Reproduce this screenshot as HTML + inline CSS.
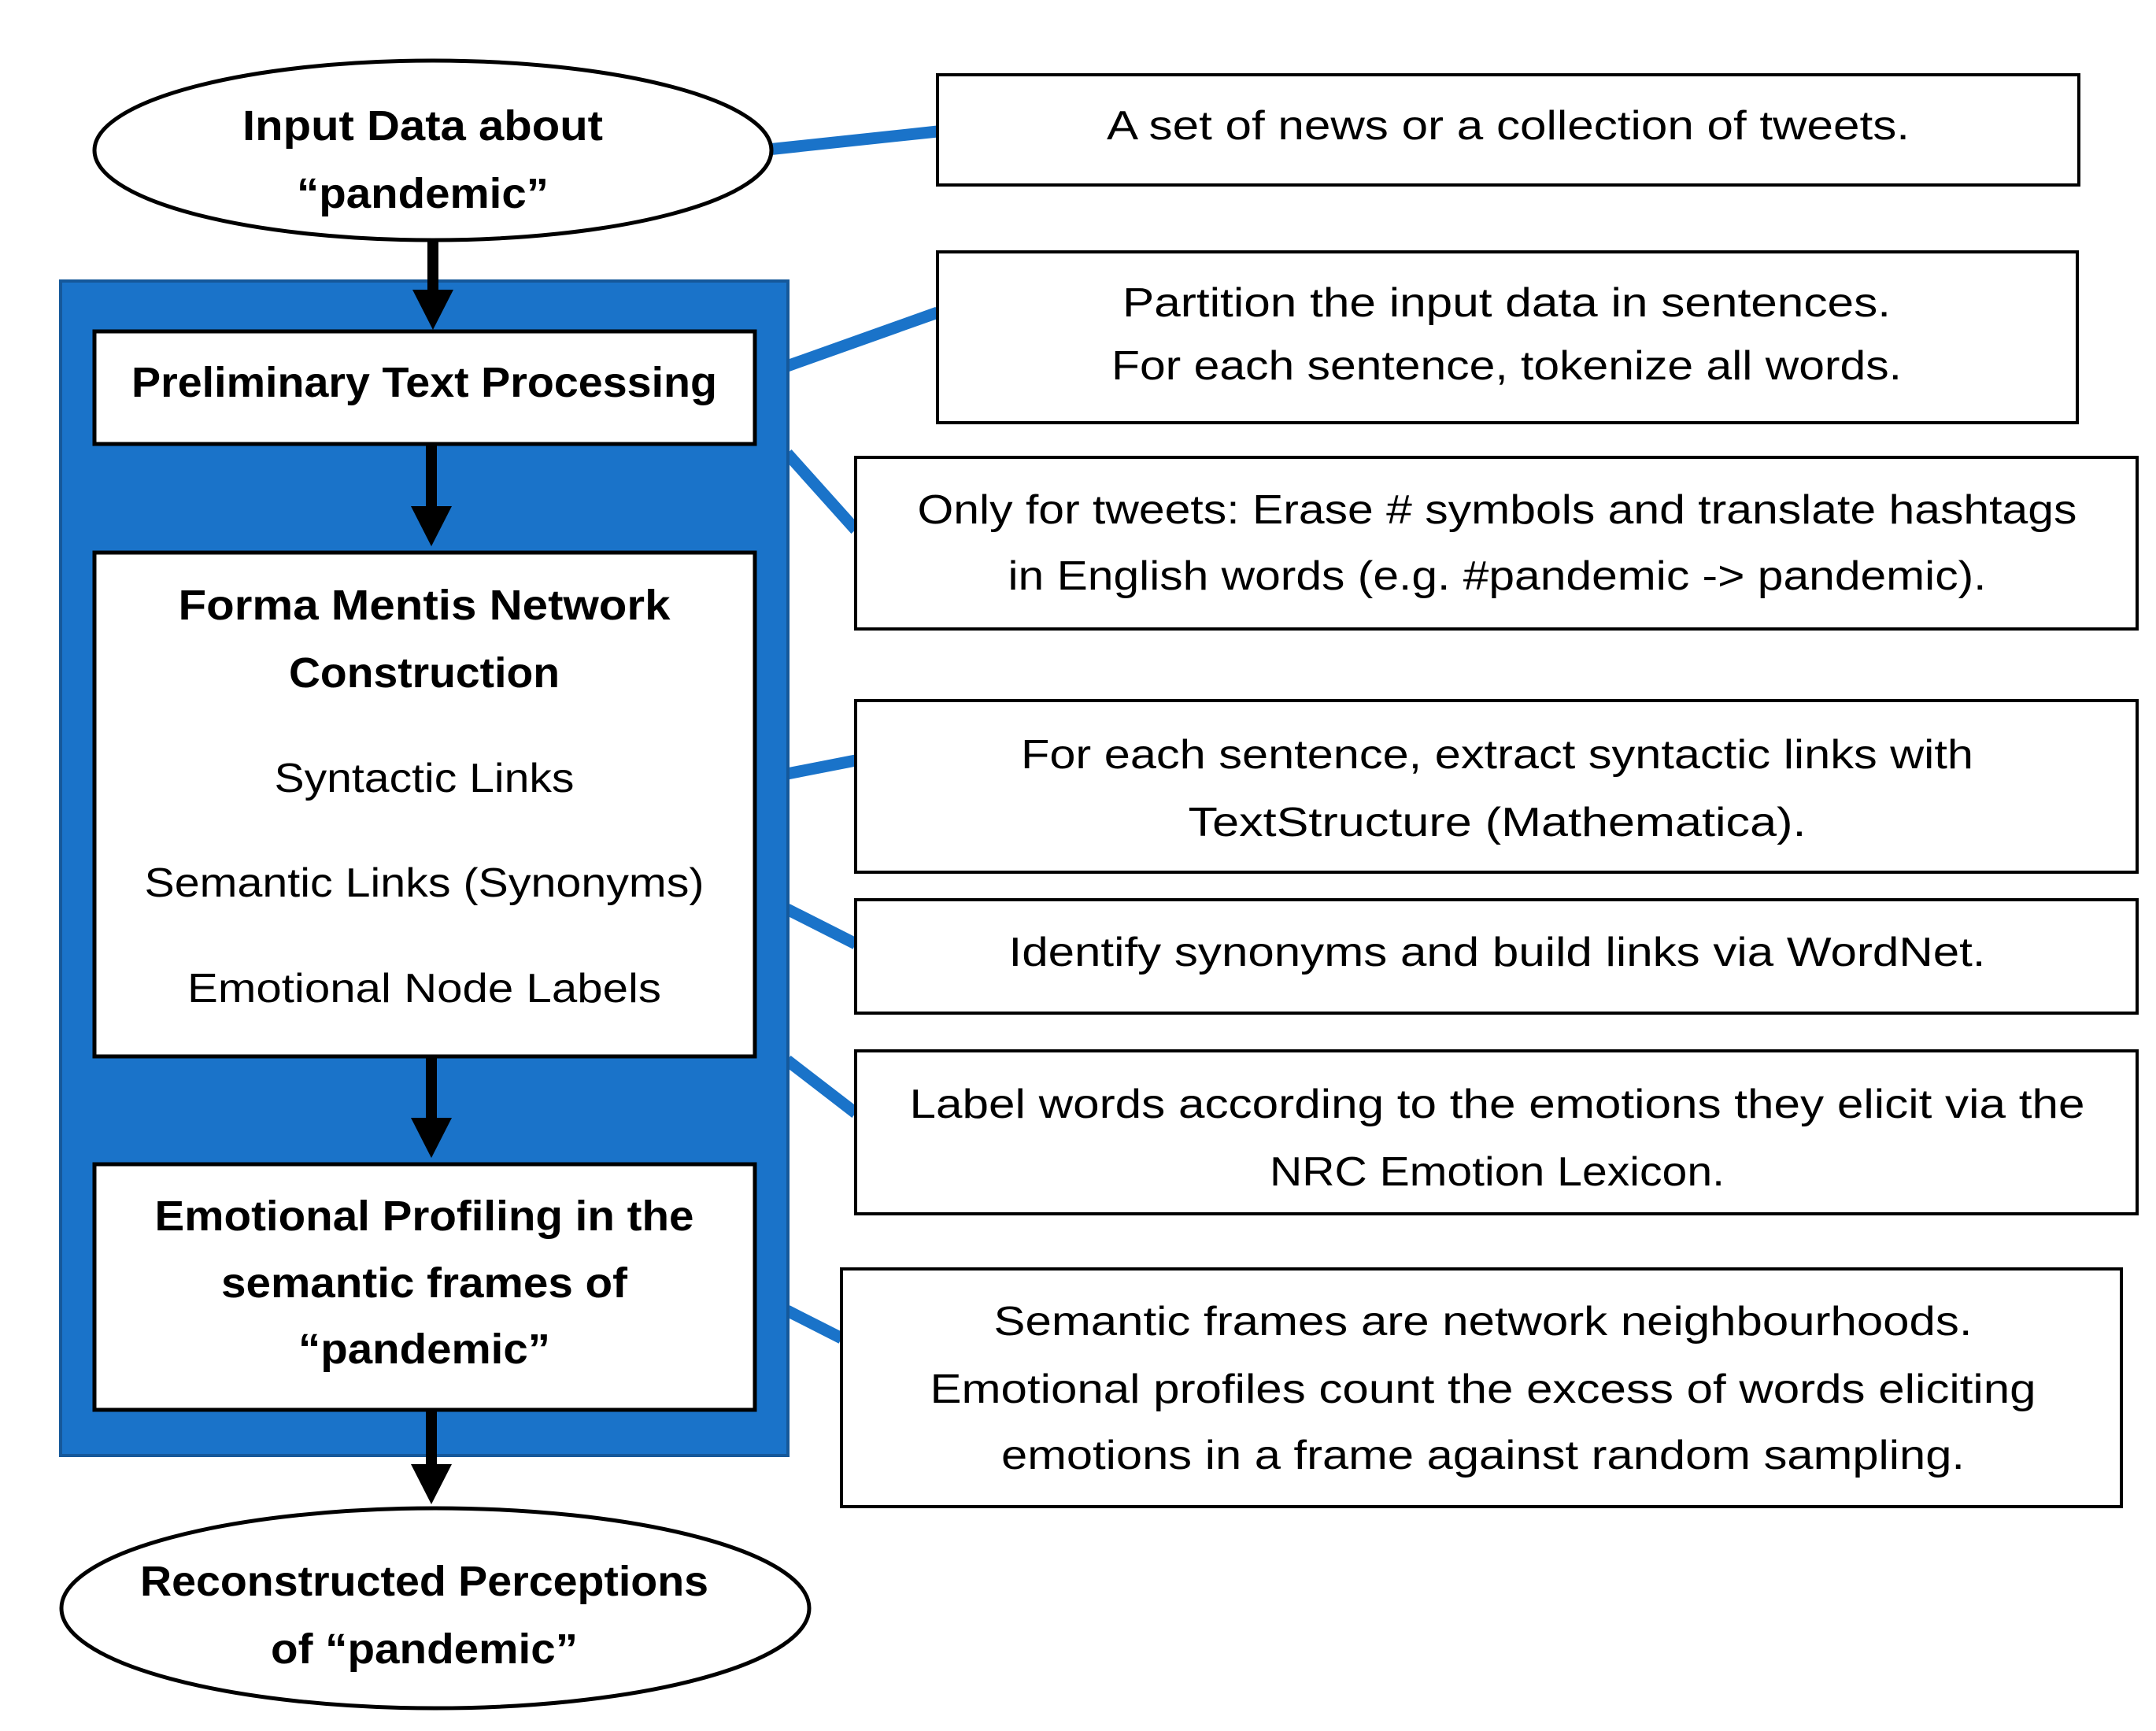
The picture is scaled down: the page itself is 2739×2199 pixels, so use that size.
<!DOCTYPE html>
<html><head><meta charset="utf-8"><style>
html,body{margin:0;padding:0;background:#fff}
svg{display:block}
text{font-family:"Liberation Sans",sans-serif;fill:#000}
.b{font-weight:bold;font-size:54px}
.r{font-size:52px}
</style></head><body>
<svg width="2739" height="2199" viewBox="0 0 2739 2199" xmlns="http://www.w3.org/2000/svg">
<defs><marker id="ah" markerWidth="4" markerHeight="3" refX="3.2" refY="1.5" orient="auto" markerUnits="strokeWidth"><path d="M0,0 L3.5,1.5 L0,3 z" fill="#000"/></marker></defs>
<!-- blue connectors -->
<g stroke="#1a73c9" stroke-width="15" fill="none">
<line x1="975" y1="190" x2="1191" y2="167"/>
<line x1="1000" y1="465" x2="1191" y2="397"/>
<line x1="1000" y1="576" x2="1087" y2="673"/>
<line x1="1000" y1="983" x2="1087" y2="966"/>
<line x1="1000" y1="1155" x2="1087" y2="1199"/>
<line x1="1000" y1="1347" x2="1087" y2="1414"/>
<line x1="1000" y1="1665" x2="1069" y2="1700"/>
</g>
<!-- blue container -->
<rect x="77" y="357" width="924" height="1492" fill="#1a73c9" stroke="#15589a" stroke-width="4"/>
<!-- ellipses -->
<ellipse cx="550" cy="191" rx="430" ry="114" fill="#fff" stroke="#000" stroke-width="5"/>
<ellipse cx="553" cy="2043" rx="475" ry="127" fill="#fff" stroke="#000" stroke-width="5"/>
<!-- left boxes -->
<g fill="#fff" stroke="#000" stroke-width="5">
<rect x="120" y="421" width="839" height="143"/>
<rect x="120" y="702" width="839" height="640"/>
<rect x="120" y="1479" width="839" height="312"/>
</g>
<!-- arrows -->
<g stroke="#000" stroke-width="14" fill="#000">
<line x1="550" y1="305" x2="550" y2="370"/><path d="M524,368 L576,368 L550,419 z" stroke="none"/>
<line x1="548" y1="564" x2="548" y2="645"/><path d="M522,643 L574,643 L548,694 z" stroke="none"/>
<line x1="548" y1="1342" x2="548" y2="1422"/><path d="M522,1420 L574,1420 L548,1471 z" stroke="none"/>
<line x1="548" y1="1791" x2="548" y2="1862"/><path d="M522,1860 L574,1860 L548,1911 z" stroke="none"/>
</g>
<!-- right boxes -->
<g fill="#fff" stroke="#000" stroke-width="4">
<rect x="1191" y="95" width="1450" height="140"/>
<rect x="1191" y="320" width="1448" height="217"/>
<rect x="1087" y="581" width="1628" height="218"/>
<rect x="1087" y="890" width="1628" height="218"/>
<rect x="1087" y="1143" width="1628" height="144"/>
<rect x="1087" y="1335" width="1628" height="207"/>
<rect x="1069" y="1612" width="1626" height="302"/>
</g>
<g text-anchor="middle" dominant-baseline="central">
<text class="b" x="537" y="160" textLength="458" lengthAdjust="spacingAndGlyphs">Input Data about</text>
<text class="b" x="537" y="246" textLength="320" lengthAdjust="spacingAndGlyphs">“pandemic”</text>
<text class="b" x="539" y="486" textLength="744" lengthAdjust="spacingAndGlyphs">Preliminary Text Processing</text>
<text class="b" x="539" y="769" textLength="625" lengthAdjust="spacingAndGlyphs">Forma Mentis Network</text>
<text class="b" x="539" y="855" textLength="344" lengthAdjust="spacingAndGlyphs">Construction</text>
<text class="r" x="539" y="989" textLength="381" lengthAdjust="spacingAndGlyphs">Syntactic Links</text>
<text class="r" x="539" y="1122" textLength="711" lengthAdjust="spacingAndGlyphs">Semantic Links (Synonyms)</text>
<text class="r" x="539" y="1256" textLength="602" lengthAdjust="spacingAndGlyphs">Emotional Node Labels</text>
<text class="b" x="539" y="1545" textLength="685" lengthAdjust="spacingAndGlyphs">Emotional Profiling in the</text>
<text class="b" x="539" y="1630" textLength="516" lengthAdjust="spacingAndGlyphs">semantic frames of</text>
<text class="b" x="539" y="1714" textLength="320" lengthAdjust="spacingAndGlyphs">“pandemic”</text>
<text class="b" x="539" y="2009" textLength="722" lengthAdjust="spacingAndGlyphs">Reconstructed Perceptions</text>
<text class="b" x="539" y="2095" textLength="390" lengthAdjust="spacingAndGlyphs">of “pandemic”</text>

<text class="r" x="1916" y="160" textLength="1020" lengthAdjust="spacingAndGlyphs">A set of news or a collection of tweets.</text>
<text class="r" x="1914" y="385" textLength="976" lengthAdjust="spacingAndGlyphs">Partition the input data in sentences.</text>
<text class="r" x="1914" y="465" textLength="1004" lengthAdjust="spacingAndGlyphs">For each sentence, tokenize all words.</text>
<text class="r" x="1902" y="648" textLength="1473" lengthAdjust="spacingAndGlyphs">Only for tweets: Erase # symbols and translate hashtags</text>
<text class="r" x="1902" y="732" textLength="1243" lengthAdjust="spacingAndGlyphs">in English words (e.g. #pandemic -&gt; pandemic).</text>
<text class="r" x="1902" y="959" textLength="1210" lengthAdjust="spacingAndGlyphs">For each sentence, extract syntactic links with</text>
<text class="r" x="1902" y="1045" textLength="785" lengthAdjust="spacingAndGlyphs">TextStructure (Mathematica).</text>
<text class="r" x="1902" y="1210" textLength="1241" lengthAdjust="spacingAndGlyphs">Identify synonyms and build links via WordNet.</text>
<text class="r" x="1902" y="1403" textLength="1493" lengthAdjust="spacingAndGlyphs">Label words according to the emotions they elicit via the</text>
<text class="r" x="1902" y="1489" textLength="578" lengthAdjust="spacingAndGlyphs">NRC Emotion Lexicon.</text>
<text class="r" x="1884" y="1679" textLength="1243" lengthAdjust="spacingAndGlyphs">Semantic frames are network neighbourhoods.</text>
<text class="r" x="1884" y="1765" textLength="1405" lengthAdjust="spacingAndGlyphs">Emotional profiles count the excess of words eliciting</text>
<text class="r" x="1884" y="1849" textLength="1224" lengthAdjust="spacingAndGlyphs">emotions in a frame against random sampling.</text>
</g>
</svg>
</body></html>
